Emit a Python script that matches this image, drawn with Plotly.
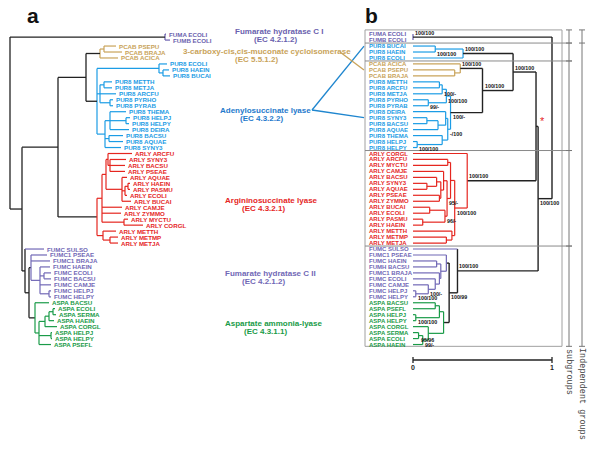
import plotly.graph_objects as go

# ---------------- data ----------------
# leaf groups (by protein prefix) and their colours
GROUP_KEYS = ["fum1", "pcab", "pur8", "arly", "fum2", "aspa"]
GROUP_TITLES = ["Fumarate hydratase C I", "3-carboxy-cis,cis-muconate cycloisomerase",
                "Adenylosuccinate lyase", "Argininosuccinate lyase",
                "Fumarate hydratase C II", "Aspartate ammonia-lyase"]
GROUP_EC = ["(EC 4.2.1.2)", "(EC 5.5.1.2)", "(EC 4.3.2.2)", "(EC 4.3.2.1)",
            "(EC 4.2.1.2)", "(EC 4.3.1.1)"]
PREFIX_GROUP = {"FUMA": "fum1", "FUMB": "fum1", "PCAB": "pcab", "PUR8": "pur8",
                "ARLY": "arly", "FUMC": "fum2", "FUMC1": "fum2", "FUMH": "fum2",
                "ASPA": "aspa"}

# panel a: [node depth (px), children]; leaves = (name, tip depth)
TREE_A = [10, [
    [165, [("FUMA ECOLI", 166), ("FUMB ECOLI", 170)]],
    [22, [
        [58, [
            [86, [
                [100, [[104, [("PCAB PSEPU", 116), ("PCAB BRAJA", 122)]], ("PCAB ACICA", 118)]],
                [97, [
                    [159, [("PUR8 ECOLI", 167), [163, [("PUR8 HAEIN", 169), ("PUR8 BUCAI", 170)]]]],
                    [100, [[104, [("PUR8 METTH", 112), ("PUR8 METJA", 112)]], ("PUR8 ARCFU", 116),
                           [110, [("PUR8 PYRHO", 113), ("PUR8 PYRAB", 113)]]]],
                    [105, [[110, [("PUR8 THEMA", 126), [126, [("PUR8 HELPJ", 130), ("PUR8 HELPY", 129)]],
                                  ("PUR8 DEIRA", 129)]],
                           [109, [("PUR8 BACSU", 123), ("PUR8 AQUAE", 123)]], ("PUR8 SYNY3", 121)]],
                ]],
            ]],
            [97, [
                [102, [
                    [106, [
                        [108, [("ARLY ARCFU", 132),
                               [110, [("ARLY SYNY3", 126), ("ARLY BACSU", 125), ("ARLY PSEAE", 125)]]]],
                        [122, [("ARLY AQUAE", 127),
                               [125, [[128, [("ARLY HAEIN", 130), ("ARLY PASMU", 130)]], ("ARLY ECOLI", 127)]],
                               ("ARLY BUCAI", 131)]],
                    ]],
                    ("ARLY CAMJE", 122), ("ARLY ZYMMO", 121),
                    [124, [("ARLY MYCTU", 128), ("ARLY CORGL", 143)]],
                ]],
                [103, [("ARLY METTH", 116), [110, [("ARLY METMP", 118), ("ARLY METJA", 118)]]]],
            ]],
        ]],
        [25, [
            ("FUMC SULSO", 44),
            [29, [
                [31, [("FUMC1 PSEAE", 47), ("FUMC1 BRAJA", 50),
                      [40, [("FUMC HAEIN", 50), [44, [("FUMC ECOLI", 51), ("FUMC BACSU", 51)]],
                            ("FUMC CAMJE", 51), [49, [("FUMC HELPJ", 51), ("FUMC HELPY", 51)]]]]]],
                [35, [("ASPA BACSU", 49),
                      [39, [[45, [[49, [[53, [("ASPA ECOLI", 55), ("ASPA SERMA", 56)]], ("ASPA HAEIN", 54)]],
                                  ("ASPA CORGL", 57)]],
                            [51, [("ASPA HELPJ", 52), ("ASPA HELPY", 52)]], ("ASPA PSEFL", 51)]]]],
            ]],
        ]],
    ]],
]]

# panel b: [height (scale units), children, bootstrap]; leaves at height 0
TREE_B = [1.0, [
    [0.0, ["FUMA ECOLI", "FUMB ECOLI"], "100/100"],
    [0.90, [
        [0.885, [
            [0.72, [
                [0.36, [[0.16, ["PUR8 BUCAI", "PUR8 HAEIN"], "100/100"], "PUR8 ECOLI"], "100/100"],
                [0.50, [
                    [0.34, ["PCAB ACICA", [0.30, ["PCAB PSEPU", "PCAB BRAJA"]]], "100/100"],
                    [0.27, [
                        [0.24, [[0.21, [[0.19, ["PUR8 METTH", "PUR8 ARCFU"]], "PUR8 METJA"], "100/-"],
                                [0.11, ["PUR8 PYRHO", "PUR8 PYRAB"], "99/-"]], "100/100"],
                        [0.25, [[0.235, ["PUR8 DEIRA",
                                         [0.18, [[0.10, ["PUR8 SYNY3", "PUR8 BACSU"]], "PUR8 AQUAE"]]]],
                                [0.21, ["PUR8 THEMA", [0.03, ["PUR8 HELPJ", "PUR8 HELPY"], "100/100"]]]],
                         "-/100"],
                    ], "100/-"],
                ], "100/100"],
            ], "100/100"],
            [0.39, [
                "ARLY CORGL",
                [0.30, [
                    [0.27, [
                        [0.25, ["ARLY ARCFU", "ARLY MYCTU"]],
                        [0.245, [
                            [0.22, ["ARLY CAMJE",
                                    [0.20, [[0.17, ["ARLY BACSU", [0.10, ["ARLY SYNY3", "ARLY AQUAE"]]]],
                                            [0.19, ["ARLY PSEAE", "ARLY ZYMMO"]]]]]],
                            [0.23, [[0.12, ["ARLY BUCAI", "ARLY ECOLI"]],
                                    [0.07, ["ARLY PASMU", "ARLY HAEIN"]]], "96/-"],
                        ], "95/-"],
                    ]],
                    [0.28, ["ARLY METTH", [0.24, ["ARLY METMP", "ARLY METJA"]]]],
                ], "100/100"],
            ], "100/100"],
        ]],
        [0.32, [
            "FUMC SULSO",
            [0.26, [
                [0.24, ["FUMC1 PSEAE",
                        [0.20, [[0.17, ["FUMC HAEIN", "FUMH BACSU"]],
                                [0.19, ["FUMC1 BRAJA",
                                        [0.16, ["FUMC ECOLI",
                                                [0.11, ["FUMC CAMJE",
                                                        [0.02, ["FUMC HELPJ", "FUMC HELPY"], "100/100"]],
                                                 "100/-"]]]]]]]]],
                [0.22, [[0.19, [[0.16, ["ASPA BACSU", "ASPA PSEFL"]],
                                [0.02, ["ASPA HELPJ", "ASPA HELPY"], "100/100"]]],
                        [0.11, ["ASPA CORGL",
                                [0.07, [[0.04, ["ASPA SERMA", "ASPA ECOLI"], "95/96"], "ASPA HAEIN"],
                                 "99/-"]]]]],
            ], "100/99"],
        ], "100/100"],
    ], "100/100"],
]]

# ---------------- style / geometry ----------------
COLORS = {"fum1": "#6a5fae", "pcab": "#c9a35a", "pur8": "#1b9ce5",
          "arly": "#e5261f", "fum2": "#7168b6", "aspa": "#1a9b48"}
TITLE_COLORS = {"fum1": "#6a5fae", "pcab": "#c9a35a", "pur8": "#1f7acc",
                "arly": "#e5261f", "fum2": "#7168b6", "aspa": "#1a9b48"}
BLACK = "#222222"
FONT = "Liberation Sans, Arial, sans-serif"
W, H = 600, 449
ROW0_PX, ROW_PX = 34.1, 5.97          # pixel y of first leaf row, row spacing
B_X0, B_SCALE = 413, 139             # panel b: pixel of height 0, pixels per unit


def prow(py):
    return (py - ROW0_PX) / ROW_PX


def group_of(name):
    return PREFIX_GROUP[name.split()[0]]


def is_leaf(n):
    return isinstance(n, (str, tuple))


def walk(node, leaves, segs, boots):
    if is_leaf(node):
        name, tip = (node, 0.0) if isinstance(node, str) else node
        row = len(leaves)
        leaves.append((name, tip, row))
        return tip, row, {group_of(name)}
    x, kids = node[0], node[1]
    pts = [walk(k, leaves, segs, boots) for k in kids]
    groups = set().union(*[p[2] for p in pts])
    col = COLORS[next(iter(groups))] if len(groups) == 1 else BLACK
    y = (pts[0][1] + pts[-1][1]) / 2
    segs.append((col, [x, x], [pts[0][1], pts[-1][1]]))
    for k, (cx, cy, g) in zip(kids, pts):
        c = COLORS[next(iter(g))] if is_leaf(k) else col
        segs.append((c, [x, cx], [cy, cy]))
    if len(node) > 2:
        boots.append((x, y, node[2]))
    return x, y, groups


fig = go.Figure()
annotations = []
shapes = []


def add_tree(tree, xaxis, width_col, width_blk):
    leaves, segs, boots = [], [], []
    root = walk(tree, leaves, segs, boots)
    by_col = {}
    for col, xs, ys in segs:
        d = by_col.setdefault(col, ([], []))
        d[0].extend(xs + [None])
        d[1].extend(ys + [None])
    for col, (xs, ys) in by_col.items():
        fig.add_trace(go.Scatter(x=xs, y=ys, xaxis=xaxis, yaxis="y", mode="lines",
                                 line=dict(color=col, width=width_blk if col == BLACK else width_col),
                                 hoverinfo="skip"))
    return leaves, boots, root


leaves_a, _, _ = add_tree(TREE_A, "x", 1.2, 1.3)
leaves_b, boots_b, root_b = add_tree(TREE_B, "x2", 1.2, 1.4)
rows_b = {n: r for n, _, r in leaves_b}

# leaf labels
for name, tip, row in leaves_a:
    annotations.append(dict(x=tip + 1, y=row, xref="x", yref="y", text=name, showarrow=False,
                            xanchor="left", yanchor="middle",
                            font=dict(family=FONT, size=6.2, color=COLORS[group_of(name)], weight="bold")))
for name, tip, row in leaves_b:
    annotations.append(dict(x=367, y=row, xref="x", yref="y", text=name, showarrow=False,
                            xanchor="left", yanchor="middle",
                            font=dict(family=FONT, size=6.0, color=COLORS[group_of(name)], weight="bold")))
# bootstrap supports: deep nodes labelled above their stem, shallow ones below
for x, y, lab in boots_b:
    above = x == 0 or 0.32 <= x < 0.9
    annotations.append(dict(x=x, y=y, xref="x2", yref="y", text=lab, showarrow=False,
                            xanchor="left", yanchor="bottom" if above else "top",
                            yshift=-0.5 if above else 0.5,
                            font=dict(family=FONT, size=5.3, color="#111", weight="bold")))

# group names (left of panel b)
TITLE_POS = {"fum1": (233, 252, 31), "pcab": (181, 233, 51), "pur8": (218, 238, 110),
             "arly": (223, 240, 200), "fum2": (223, 240, 273), "aspa": (223, 242, 323)}
for key, title, ec in zip(GROUP_KEYS, GROUP_TITLES, GROUP_EC):
    tx, ex, ty = TITLE_POS[key]
    for txt, xx, yy in ((title, tx, ty), (ec, ex, ty + 8.5)):
        annotations.append(dict(x=xx, y=prow(yy), xref="x", yref="y", text=txt, showarrow=False,
                                xanchor="left", yanchor="middle",
                                font=dict(family=FONT, size=8, color=TITLE_COLORS[key], weight="bold")))

# connectors from names to panel b
for (x0, y0), name, col in (((312, 110), "PUR8 BUCAI", "#1f86cf"),
                            ((312, 110), "PUR8 SYNY3", "#1f86cf"),
                            ((340, 52), "PCAB PSEPU", "#c9a35a")):
    shapes.append(dict(type="line", xref="x", yref="y", x0=x0, y0=prow(y0), x1=364, y1=rows_b[name],
                       line=dict(color=col, width=1.3)))

# panel b frame and separators
top, bot = -0.7, 52.3
shapes.append(dict(type="rect", xref="x", yref="y", x0=365, x1=562, y0=top, y1=bot,
                   line=dict(color="#a0a0a0", width=1)))
sep_after = [1, 4, 19, 35]
for i in sep_after:
    shapes.append(dict(type="line", xref="x", yref="y", x0=365, x1=572, y0=i + 0.5, y1=i + 0.5,
                       line=dict(color="#8a8a8a", width=1)))
# brackets
for bx, ticks in ((569, [top] + [i + 0.5 for i in sep_after] + [bot]), (582, [top, 1.5, bot])):
    shapes.append(dict(type="line", xref="x", yref="y", x0=bx, x1=bx, y0=top, y1=bot,
                       line=dict(color="#777", width=1)))
    for t in ticks:
        shapes.append(dict(type="line", xref="x", yref="y", x0=bx - 3, x1=bx + 3, y0=t, y1=t,
                           line=dict(color="#777", width=1)))
for txt, bx, cy in (("subgroups", 569, 372), ("Independent groups", 582, 394)):
    annotations.append(dict(x=bx, y=prow(cy), xref="x", yref="y", text=txt, showarrow=False,
                            textangle=90, xanchor="center", yanchor="middle",
                            font=dict(family="Liberation Mono, monospace", size=8.5, color="#444")))

# scale bar
sy = prow(360)
fig.add_trace(go.Scatter(x=[0, 1, None, 0, 0, None, 1, 1], xaxis="x2", yaxis="y",
                         y=[sy, sy, None, sy - 0.5, sy + 0.5, None, sy - 0.5, sy + 0.5],
                         mode="lines", line=dict(color=BLACK, width=1.3), hoverinfo="skip"))
for v in (0, 1):
    annotations.append(dict(x=v, y=prow(367), xref="x2", yref="y", text=str(v), showarrow=False,
                            font=dict(family=FONT, size=7, color="#222", weight="bold")))

# root marker
annotations.append(dict(x=root_b[0] - 0.07, y=root_b[1] + 0.5, xref="x2", yref="y", text="*",
                        showarrow=False, font=dict(family=FONT, size=11, color="#e5261f")))

# panel letters
for txt, x, y in (("a", 33, 15), ("b", 371, 15)):
    annotations.append(dict(x=x, y=prow(y), xref="x", yref="y", text=txt, showarrow=False,
                            font=dict(family=FONT, size=21, color="#111", weight="bold")))

fig.update_layout(
    width=W, height=H, margin=dict(l=0, r=0, t=0, b=0),
    paper_bgcolor="white", plot_bgcolor="white", showlegend=False,
    xaxis=dict(range=[0, W], visible=False, fixedrange=True),
    xaxis2=dict(range=[-B_X0 / B_SCALE, (W - B_X0) / B_SCALE], overlaying="x",
                visible=False, anchor="y"),
    yaxis=dict(range=[prow(H), prow(0)], visible=False),
    annotations=annotations, shapes=shapes,
)

fig.write_html("out.html", config={"displayModeBar": False},
               post_script="document.body.style.margin='0px';")
